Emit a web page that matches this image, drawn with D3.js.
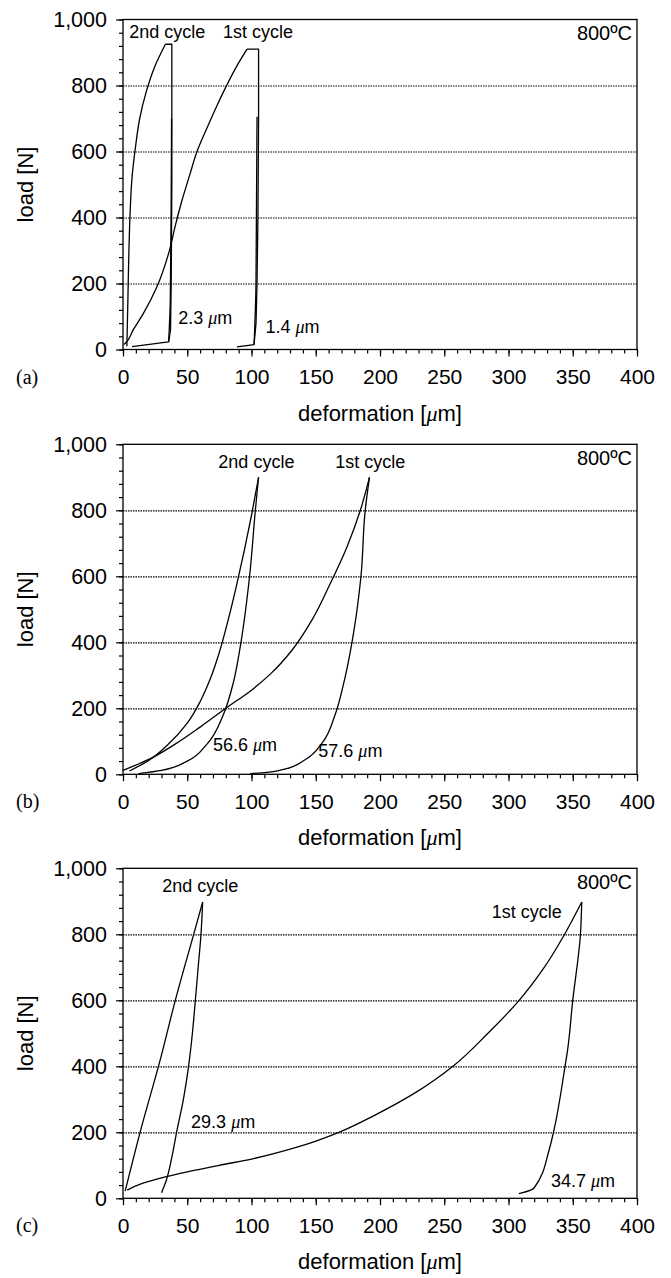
<!DOCTYPE html>
<html>
<head>
<meta charset="utf-8">
<script src="https://cdn.jsdelivr.net/npm/d3@7"></script>
<style>
body { margin: 0; background: #fff; }
svg text { font-family: "Liberation Sans", Arial, sans-serif; fill: #000; }
</style>
</head>
<body>
<svg id="chart" width="671" height="1278"></svg>
<script>
// tick values
var xMajor = [0, 50, 100, 150, 200, 250, 300, 350, 400];
var xMinor = d3.range(0, 401, 10);
var yMajor = [0, 200, 400, 600, 800, 1000];
var yMinor = d3.range(0, 1001, 40);
var gridLoads = [200, 400, 600, 800];

// panel (a): [deformation um, load N]
var a2Load = [[3,10],[3.8,150],[4.6,300],[5.6,420],[7,520],[9.6,610],[13,700],[18,780],[25,860],[33,925]];
var a2Unload = [[33,925],[38,925],[38,500],[37.5,200],[37,60],[35.5,23],[7,9]];
var a2Reload = [[35.5,23],[36.8,150],[37.5,450],[37.8,700]];
var a1Load = [[0.5,15],[1.8,19],[8,60],[16,110],[26.4,190],[35.5,291],[41,380],[46,453],[52,530],[57.6,600],[65,668],[73,738],[80,795],[88,855],[96.5,910]];
var a1Unload = [[96.5,910],[105.5,910],[105.5,700],[105,400],[104.3,200],[103.5,80],[102,15],[88.7,8]];
var a1Reload = [[102,15],[103.5,200],[104.3,705]];

// panel (b)
var b2Load = [[5,10],[20,42],[35,90],[50,155],[60,220],[68,290],[75,370],[82,470],[88.5,575],[94.5,680],[100,785],[105.5,900]];
var b2Unload = [[105.5,900],[103,800],[98.5,600],[91.8,400],[86,280],[78,180],[65,90],[50,40],[30,12],[12,2]];
var b1Load = [[0,12],[20,45],[40,90],[60,143],[80,200],[100,255],[115,305],[131.5,376],[147,467],[161.3,578],[174.3,689],[184.7,800],[191.8,900]];
var b1Unload = [[191.8,900],[188.5,800],[185.2,600],[178.2,400],[172,280],[165,180],[155,95],[142,45],[125,15],[110,5],[99,2]];

// panel (c)
var c2Load = [[1.7,22],[13.3,200],[29,420],[40.7,600],[55,800],[62,898]];
var c2Unload = [[62,898],[60.7,800],[58.5,700],[56.3,600],[54,500],[51.7,420],[47,300],[41.7,200],[38.3,130],[33.3,50],[30,17]];
var c1Load = [[3.3,25],[15,45],[30,62],[50,80],[75,100],[100,119],[138,158],[168,200],[195,250],[225,314],[258,404],[284,500],[306.6,592],[327,695],[342.9,795],[357,898]];
var c1Unload = [[357,898],[356,800],[350,600],[346,450],[344,400],[335,200],[331.7,148],[320,32],[316.7,24],[308,14]];

var svg = d3.select("#chart");
var left = 123, width = 514, height = 330;

var panels = [
    { top: 19.5, tag: "(a)",
      curves: [a2Load, a2Unload, a2Reload, a1Load, a1Unload, a1Reload],
      notes: [
        { t: "2nd cycle", x: 4.9, y: 943 },
        { t: "1st cycle", x: 77.8, y: 943 },
        { t: "2.3 ", mu: true, x: 43, y: 77 },
        { t: "1.4 ", mu: true, x: 110.8, y: 49 }
      ] },
    { top: 444.3, tag: "(b)",
      curves: [b2Load, b2Unload, b1Load, b1Unload],
      notes: [
        { t: "2nd cycle", x: 74.2, y: 929 },
        { t: "1st cycle", x: 165.2, y: 929 },
        { t: "56.6 ", mu: true, x: 70, y: 70 },
        { t: "57.6 ", mu: true, x: 152, y: 52 }
      ] },
    { top: 868.3, tag: "(c)",
      curves: [c2Load, c2Unload, c1Load, c1Unload],
      notes: [
        { t: "2nd cycle", x: 30.6, y: 928 },
        { t: "1st cycle", x: 287, y: 848 },
        { t: "29.3 ", mu: true, x: 53, y: 214 },
        { t: "34.7 ", mu: true, x: 333, y: 33 }
      ] }
];

function addMu(sel, prefix) {
    sel.append("tspan").text(prefix);
    sel.append("tspan").attr("font-family", "Liberation Serif, serif").attr("font-style", "italic").text("\u03bc");
    sel.append("tspan").text("m");
}

// true if the load keeps going one way along the branch
function monotoneLoad(c) {
    for (var i = 1; i < c.length; i++) {
        if ((c[i][1] - c[i - 1][1]) * (c[c.length - 1][1] - c[0][1]) <= 0) return false;
    }
    return true;
}

panels.forEach(function(p) {
    var g = svg.append("g").attr("transform", "translate(" + left + "," + p.top + ")");
    var x = d3.scaleLinear().domain([0, 400]).range([0, width]);
    var y = d3.scaleLinear().domain([0, 1000]).range([height, 0]);

    // dotted grid
    g.append("g")
        .call(d3.axisLeft(y).tickValues(gridLoads).tickSize(-width).tickFormat(""))
        .call(function(s) {
            s.select(".domain").remove();
            s.selectAll("line").attr("stroke", "#888").attr("stroke-width", 0.8).attr("stroke-dasharray", "1.5,1");
        });

    // minor ticks
    g.append("g").attr("transform", "translate(0," + height + ")")
        .call(d3.axisBottom(x).tickValues(xMinor).tickSize(4).tickFormat(""))
        .call(function(s) { s.select(".domain").remove(); });
    g.append("g")
        .call(d3.axisLeft(y).tickValues(yMinor).tickSize(4).tickFormat(""))
        .call(function(s) { s.select(".domain").remove(); });

    // major ticks + labels
    g.append("g").attr("transform", "translate(0," + height + ")")
        .call(d3.axisBottom(x).tickValues(xMajor).tickSize(7).tickPadding(13).tickFormat(d3.format("d")))
        .call(function(s) {
            s.select(".domain").remove();
            s.selectAll("text").attr("font-size", 21).attr("font-family", null);
        });
    g.append("g")
        .call(d3.axisLeft(y).tickValues(yMajor).tickSize(7).tickPadding(9).tickFormat(d3.format(",")))
        .call(function(s) {
            s.select(".domain").remove();
            s.selectAll("text").attr("font-size", 21.5).attr("font-family", null);
        });
    g.selectAll(".tick line").attr("stroke", "#000").attr("stroke-width", 1.2);

    // frame
    g.append("rect").attr("width", width).attr("height", height)
        .attr("fill", "none").attr("stroke", "#000").attr("stroke-width", 1.3);

    // curves: smooth branches where load is monotone, straight segments otherwise
    p.curves.forEach(function(c) {
        var smooth = monotoneLoad(c);
        var pts = smooth ? c.slice().sort(function(u, v) { return u[1] - v[1]; }) : c;
        var line = d3.line()
            .x(function(d) { return x(d[0]); })
            .y(function(d) { return y(d[1]); })
            .curve(smooth ? d3.curveMonotoneY : d3.curveLinear);
        g.append("path").datum(pts)
            .attr("d", line)
            .attr("fill", "none").attr("stroke", "#000").attr("stroke-width", 1.3)
            .attr("stroke-linejoin", "round");
    });

    // annotations
    p.notes.forEach(function(n) {
        var t = g.append("text").attr("x", x(n.x)).attr("y", y(n.y)).attr("font-size", 18);
        if (n.mu) addMu(t, n.t); else t.text(n.t);
    });
    g.append("text").attr("x", width - 5).attr("y", 20.5).attr("text-anchor", "end")
        .attr("font-size", 20).text("800\u00baC");

    // axis titles
    var xt = g.append("text").attr("x", width / 2).attr("y", height + 71)
        .attr("text-anchor", "middle").attr("font-size", 22);
    xt.append("tspan").text("deformation [");
    xt.append("tspan").attr("font-family", "Liberation Serif, serif").attr("font-style", "italic").text("\u03bc");
    xt.append("tspan").text("m]");

    g.append("text").attr("transform", "translate(" + (33 - left) + "," + (height / 2) + ") rotate(-90)")
        .attr("text-anchor", "middle").attr("font-size", 22).text("load [N]");

    svg.append("text").attr("x", 16).attr("y", p.top + height + 34)
        .style("font-family", "'Liberation Serif', serif")
        .attr("font-size", 20).text(p.tag);
});
</script>
</body>
</html>
